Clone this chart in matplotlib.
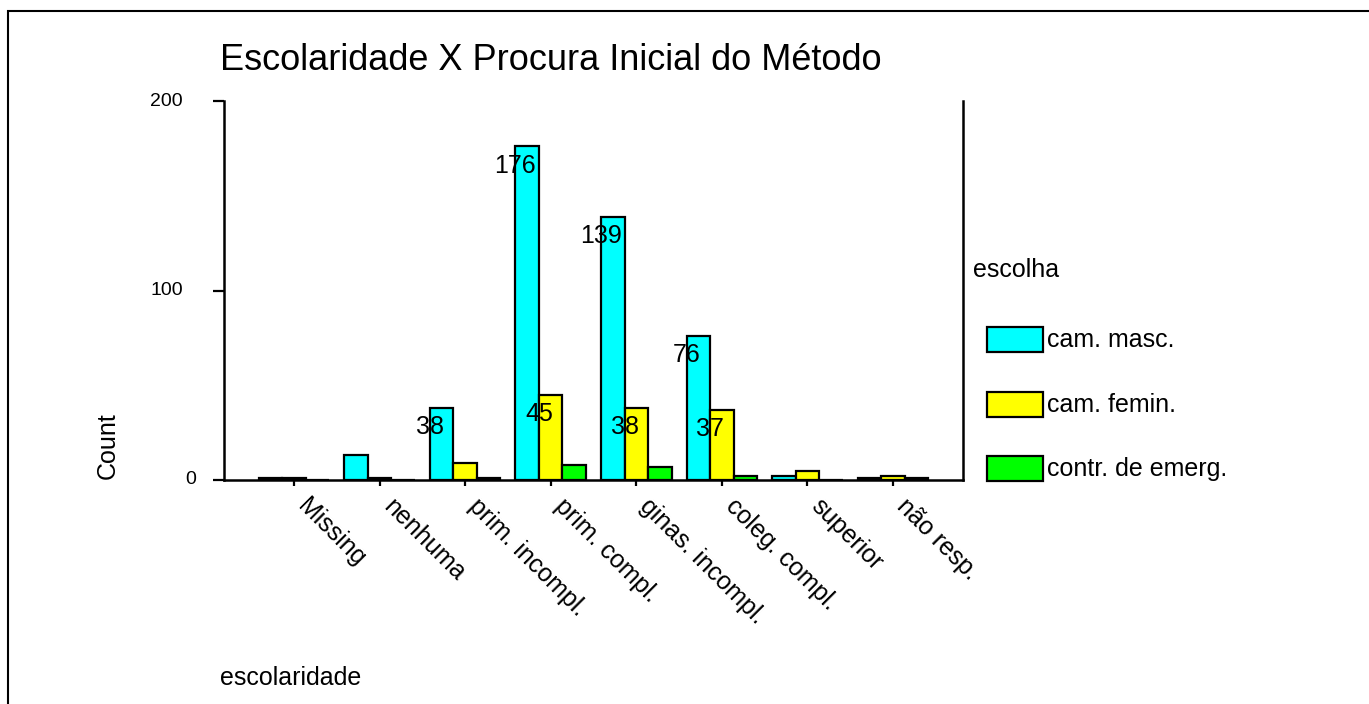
import matplotlib
matplotlib.use("Agg")
import matplotlib.pyplot as plt
import matplotlib.transforms as mtransforms
from matplotlib.patches import Rectangle
import numpy as np

plt.rcParams['font.family'] = ['Liberation Sans', 'DejaVu Sans']

# data
categories = ['Missing', 'nenhuma', 'prim. incompl.', 'prim. compl.',
              'ginas. incompl.', 'coleg. compl.', 'superior', 'não resp.']
cam_masc = [1, 13, 38, 176, 139, 76, 2, 1]
cam_femin = [1, 1, 9, 45, 38, 37, 5, 2]
contr_emerg = [0, 0, 1, 8, 7, 2, 0, 1]
series_names = ['cam. masc.', 'cam. femin.', 'contr. de emerg.']
yticks = [0, 100, 200]

colors = ['#00FFFF', '#FFFF00', '#00FF00']
W, H = 1369, 704

fig = plt.figure(figsize=(W / 100, H / 100), dpi=100)
ax = fig.add_axes([224 / W, 1 - 480 / H, (963 - 224) / W, (480 - 101) / H])


def px(x, y):
    # figure pixel coords (origin top-left) -> figure fraction
    return x / W, 1 - y / H


x = np.arange(len(categories))
bw = 0.275
all_series = [cam_masc, cam_femin, contr_emerg]
for i, (vals, c) in enumerate(zip(all_series, colors)):
    ax.bar(x + (i - 1) * bw, vals, width=bw, color=c, edgecolor='black',
           linewidth=1.6, zorder=3)
    # value labels, centred on the bar's left edge, a bit below the top
    for xi, v in zip(x, vals):
        if v > 30:
            ax.annotate(str(v), xy=(xi + (i - 1.5) * bw, v), xytext=(0, -14),
                        textcoords='offset points', ha='center', va='center',
                        fontsize=18, zorder=4)

ax.set_xlim(-0.818, len(categories) - 1 + 0.818)
ax.set_ylim(0, 200)
ax.spines['top'].set_visible(False)
for s in ['left', 'right', 'bottom']:
    ax.spines[s].set_linewidth(1.8)

ax.set_yticks(yticks)
ax.set_yticklabels([])
ax.tick_params(axis='y', length=8, width=1.6, direction='out')
ylab_tr = mtransforms.blended_transform_factory(fig.transFigure, ax.transData)
for t in yticks:
    xr = 196 if t == 0 else 183
    ax.text(xr / W, t, str(t), transform=ylab_tr, ha='right', va='center',
            fontsize=14)

ax.set_xticks(x)
ax.set_xticklabels(categories, fontsize=18, rotation=-45, ha='left',
                   va='top', rotation_mode='anchor')
ax.tick_params(axis='x', length=4, width=1.6, direction='out', pad=5)
off = mtransforms.ScaledTranslation(16 / 100, -2 / 100, fig.dpi_scale_trans)
for lab in ax.get_xticklabels():
    lab.set_transform(lab.get_transform() + off)

# title and axis titles
fig.text(*px(220, 70), 'Escolaridade X Procura Inicial do Método',
         fontsize=26, ha='left', va='baseline')
fig.text(*px(108, 446), 'Count', rotation=90, fontsize=18,
         ha='center', va='center')
fig.text(*px(220, 685), 'escolaridade', fontsize=18, ha='left',
         va='baseline')

# legend
fig.text(*px(973, 277), 'escolha', fontsize=18, ha='left', va='baseline')
for k, (name, c) in enumerate(zip(series_names, colors)):
    top = 327 + k * 64.5
    x0, y0 = px(987, top + 25)
    fig.patches.append(Rectangle((x0, y0), 56 / W, 25 / H, facecolor=c,
                                 edgecolor='black', linewidth=1.6,
                                 transform=fig.transFigure))
    fig.text(*px(1047, top + 13), name, fontsize=18, ha='left', va='center')

# outer frame (runs off the right and bottom of the image)
bx, by = px(8, 720)
fig.patches.append(Rectangle((bx, by), 1.05, (720 - 11) / H, fill=False,
                             edgecolor='black', linewidth=1.5,
                             transform=fig.transFigure))

fig.savefig('out.png', dpi=100)
